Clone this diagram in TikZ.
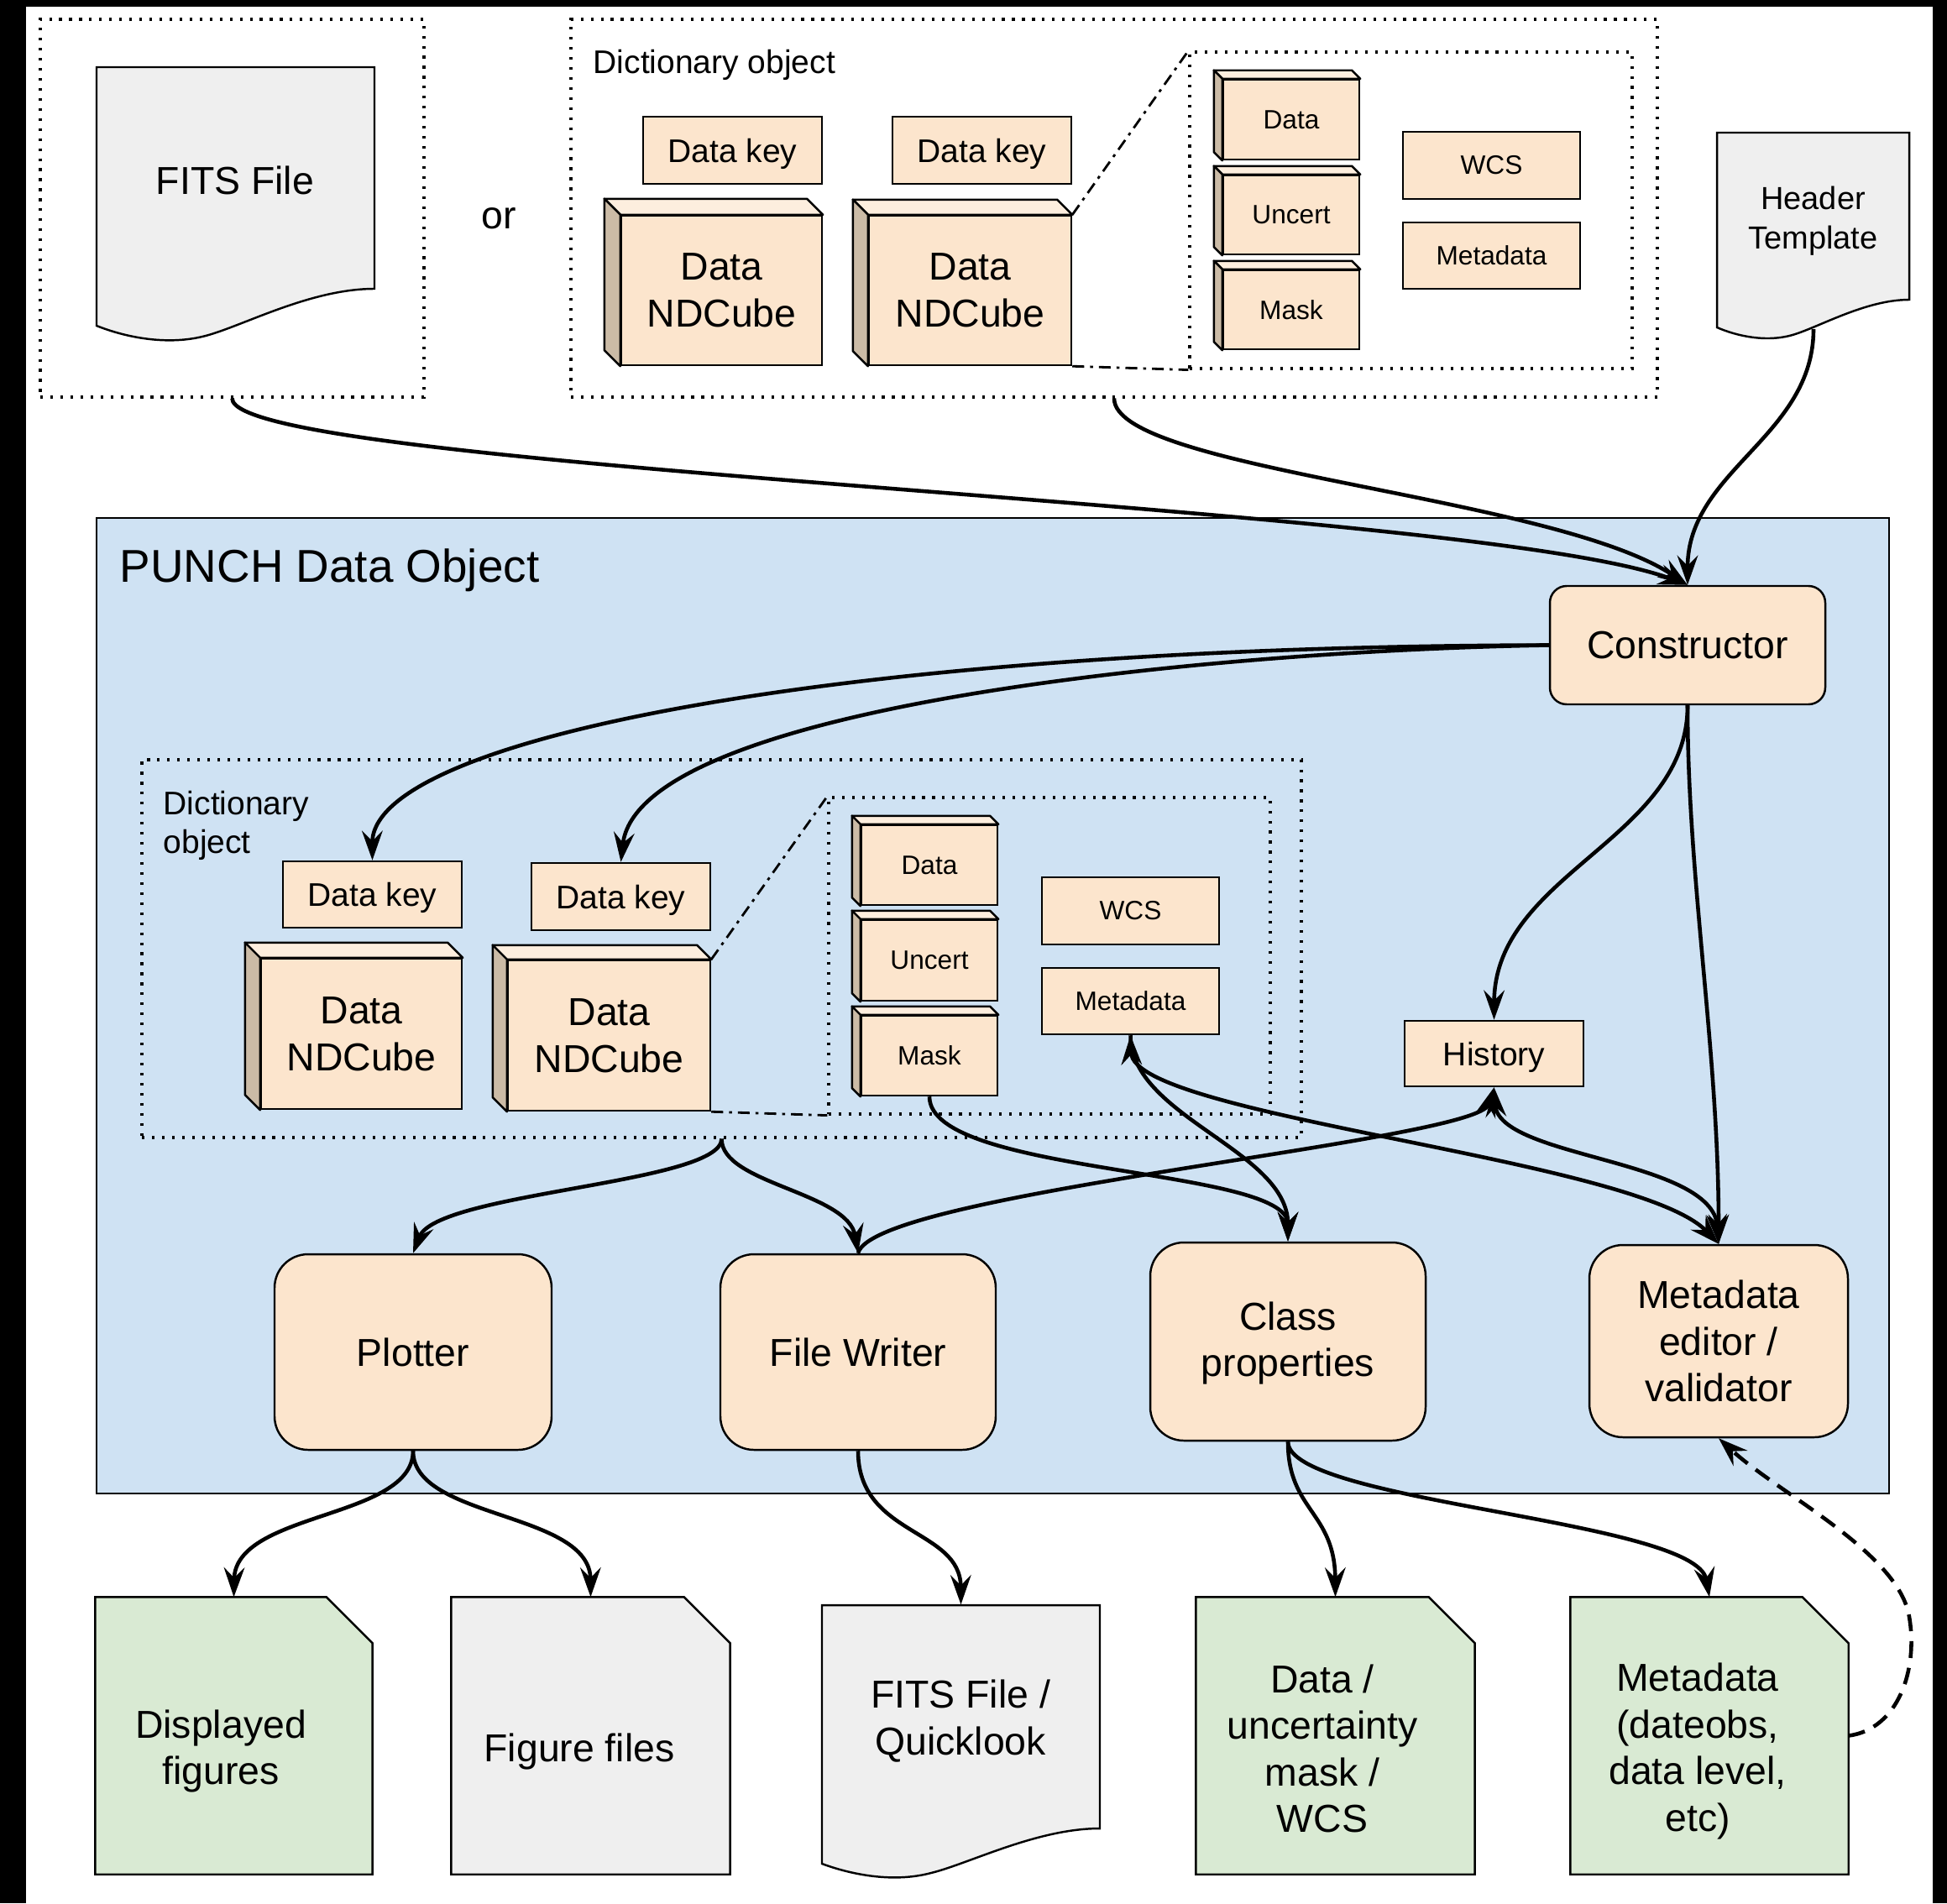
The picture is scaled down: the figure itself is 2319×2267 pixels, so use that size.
\documentclass[tikz,border=0pt]{standalone}
\usepackage{fontspec}
\setmainfont{Liberation Sans}
\usetikzlibrary{arrows.meta,calc}
\definecolor{peach}{RGB}{252,229,205}
\definecolor{cubetop}{RGB}{253,238,222}
\definecolor{cubeside}{RGB}{203,187,166}
\definecolor{pblue}{RGB}{207,226,243}
\definecolor{pgreen}{RGB}{217,234,211}
\definecolor{pgrey}{RGB}{239,239,239}
\newcommand\fBig{\fontsize{13.2}{15.8}\selectfont}
\newcommand\fPun{\fontsize{15.6}{18}\selectfont}
\newcommand\fMid{\fontsize{11.1}{13.1}\selectfont}
\newcommand\fHdr{\fontsize{10.8}{13.4}\selectfont}
\newcommand\fSml{\fontsize{9}{11}\selectfont}
\newcommand\drawcube[2]{%
  \filldraw[cubeedge, fill=cubetop] (#1.north west) -- ++(-#2,-#2) -- ($(#1.north east)+(-#2,-#2)$) -- (#1.north east) -- cycle;
  \filldraw[cubeedge, fill=cubeside] (#1.north west) -- ++(-#2,-#2) -- ($(#1.south west)+(-#2,-#2)$) -- (#1.south west) -- cycle;}
\begin{document}
\begin{tikzpicture}[x=0.1mm,y=-0.1mm,
  box/.style={draw, line width=0.7pt, fill=peach, inner sep=0pt, align=center},
  rbox/.style={box, rounded corners=4mm, font=\fBig},
  capmid/.style={text height=8.1pt, text depth=0pt},
  dotbox/.style={draw, line width=0.9pt, dash pattern=on 0.9pt off 2.5pt, inner sep=0pt},
  shapebox/.style={inner sep=0pt},
  docline/.style={draw, line width=0.7pt},
  cubeedge/.style={draw, line width=0.7pt, line join=round},
  conn/.style={line width=1.3pt, -{Stealth[length=10pt,width=7pt,inset=3.5pt]}},
  bconn/.style={line width=1.3pt, {Stealth[length=10pt,width=7pt,inset=3.5pt]}-{Stealth[length=10pt,width=7pt,inset=3.5pt]}},
  dashdot/.style={line width=0.8pt, dash pattern=on 4pt off 2pt on 1pt off 2pt},
  lbl/.style={inner sep=0pt, align=center},
]
\useasboundingbox (0,0) rectangle (2319,2267);
\fill[white] (0,0) rectangle (2319,2267);
\fill[black] (0,0) rectangle (31,2267);
\fill[black] (0,0) rectangle (2319,8);
\fill[black] (2302,0) rectangle (2319,2267);

% PUNCH data object container
\node[draw, line width=0.7pt, fill=pblue, inner sep=0pt, minimum width=213.5mm, minimum height=116.2mm] (punch) at (1182.5,1198) {};
\node[lbl, anchor=west, font=\fPun] (punchlbl) at (142,679) {PUNCH Data Object};

% ---------- top row ----------
\node[dotbox, minimum width=45.7mm, minimum height=45mm] (fitsgrp) at (276.5,248) {};
\node[shapebox, minimum width=33.1mm, minimum height=32.6mm] (fitsS) at (280.5,243) {};
\filldraw[docline, fill=pgrey] (115,80) -- (446,80) -- (446,344) .. controls (370,344) and (290,388) .. (245,400) .. controls (200,412) and (150,402) .. (115,388) -- cycle;
\node[lbl, font=\fBig] (fits) at (280,215) {FITS File};
\node[lbl, font=\fBig] (orlbl) at (594,260) {or};

\node[dotbox, minimum width=129.4mm, minimum height=45mm] (dictT) at (1327,248) {};
\node[lbl, anchor=west, font=\fMid] (dictTlbl) at (706,77) {Dictionary object};
\node[box, capmid, font=\fMid, minimum width=21.3mm, minimum height=8mm] (dkT1) at (872.5,179) {Data key};
\node[box, capmid, font=\fMid, minimum width=21.3mm, minimum height=8mm] (dkT2) at (1169.5,179) {Data key};
\node[box, font=\fBig, minimum width=23.9mm, minimum height=17.8mm] (ndT1) at (859.5,346) {Data\\NDCube};
\node[box, font=\fBig, minimum width=24.1mm, minimum height=17.8mm] (ndT2) at (1155.5,346) {Data\\NDCube};
\drawcube{ndT1}{19}
\drawcube{ndT2}{18}
\node[dotbox, minimum width=52.7mm, minimum height=37.7mm] (zoomT) at (1680.5,250.5) {};
\node[box, font=\fSml, minimum width=16.2mm, minimum height=9.5mm] (sdT) at (1538,142.5) {Data};
\node[box, font=\fSml, minimum width=16.2mm, minimum height=9.4mm] (suT) at (1538,256) {Uncert};
\node[box, font=\fSml, minimum width=16.2mm, minimum height=9.4mm] (smT) at (1538,369) {Mask};
\drawcube{sdT}{10}
\drawcube{suT}{10}
\drawcube{smT}{10}
\node[box, font=\fSml, minimum width=21.1mm, minimum height=8mm] (wcsT) at (1776.5,197) {WCS};
\node[box, font=\fSml, minimum width=21.1mm, minimum height=7.9mm] (metaT) at (1776.5,304.5) {Metadata};
\draw[dashdot] (ndT2.north east) -- (zoomT.north west);
\draw[dashdot] (ndT2.south east) -- (zoomT.south west);

\node[shapebox, minimum width=22.9mm, minimum height=24.5mm] (hdrS) at (2159.5,280.5) {};
\filldraw[docline, fill=pgrey] (2045,158) -- (2274,158) -- (2274,357) .. controls (2222,357) and (2166,390) .. (2135,399) .. controls (2104,408) and (2069,400.5) .. (2045,390) -- cycle;
\node[lbl, font=\fHdr] (hdr) at (2159.5,263) {Header\\Template};
\coordinate (hdrtail) at (2160,392);

% ---------- inside PUNCH data object ----------
\node[box, rounded corners=2mm, font=\fBig, minimum width=32.8mm, minimum height=14.1mm] (cons) at (2010,768.5) {Constructor};

\node[dotbox, minimum width=138.1mm, minimum height=45mm] (dictB) at (859.5,1130) {};
\node[lbl, anchor=west, align=left, font=\fMid] (dictBlbl) at (194,983) {Dictionary\\object};
\node[box, capmid, font=\fMid, minimum width=21.3mm, minimum height=7.9mm] (dkB1) at (443.5,1065.5) {Data key};
\node[box, capmid, font=\fMid, minimum width=21.3mm, minimum height=8mm] (dkB2) at (739.5,1068) {Data key};
\node[box, font=\fBig, minimum width=23.9mm, minimum height=17.9mm] (ndB1) at (430.5,1231.5) {Data\\NDCube};
\node[box, font=\fBig, minimum width=24.1mm, minimum height=17.9mm] (ndB2) at (725.5,1233.5) {Data\\NDCube};
\drawcube{ndB1}{18}
\drawcube{ndB2}{17}
\node[dotbox, minimum width=52.6mm, minimum height=37.7mm] (zoomB) at (1250,1138.5) {};
\node[box, font=\fSml, minimum width=16.2mm, minimum height=9.5mm] (sdB) at (1107,1030.5) {Data};
\node[box, font=\fSml, minimum width=16.2mm, minimum height=9.6mm] (suB) at (1107,1144) {Uncert};
\node[box, font=\fSml, minimum width=16.2mm, minimum height=9.5mm] (smB) at (1107,1257.5) {Mask};
\drawcube{sdB}{10}
\drawcube{suB}{10}
\drawcube{smB}{10}
\node[box, font=\fSml, minimum width=21.1mm, minimum height=8mm] (wcsB) at (1346.5,1085) {WCS};
\node[box, font=\fSml, minimum width=21.1mm, minimum height=7.9mm] (metaB) at (1346.5,1192.5) {Metadata};
\draw[dashdot] (ndB2.north east) -- (zoomB.north west);
\draw[dashdot] (ndB2.south east) -- (zoomB.south west);

\node[box, capmid, font=\fMid, minimum width=21.3mm, minimum height=7.8mm] (hist) at (1779.5,1255) {History};

\node[rbox, minimum width=33mm, minimum height=23.3mm] (plot) at (492,1610.5) {Plotter};
\node[rbox, minimum width=32.8mm, minimum height=23.3mm] (fw) at (1022,1610.5) {File Writer};
\node[rbox, minimum width=32.8mm, minimum height=23.6mm] (cls) at (1534,1598) {};
\node[lbl, font=\fBig] (clsT) at (1534,1600) {Class\\properties};
\node[rbox, minimum width=30.8mm, minimum height=22.9mm] (med) at (2047,1597.5) {Metadata\\editor /\\validator};

% ---------- bottom documents ----------
\node[shapebox, minimum width=32.9mm, minimum height=32.9mm] (disp) at (278.5,2067.5) {};
\filldraw[docline, fill=pgreen] (disp.north west) -- ($(disp.north east)+(-55,0)$) -- ($(disp.north east)+(0,55)$) -- (disp.south east) -- (disp.south west) -- cycle;
\node[lbl, font=\fBig] (dispT) at (263,2086) {Displayed\\figures};

\node[shapebox, minimum width=33.1mm, minimum height=32.9mm] (figf) at (703.5,2067.5) {};
\filldraw[docline, fill=pgrey] (figf.north west) -- ($(figf.north east)+(-55,0)$) -- ($(figf.north east)+(0,55)$) -- (figf.south east) -- (figf.south west) -- cycle;
\node[lbl, font=\fBig] (figfT) at (690,2086) {Figure files};

\node[shapebox, minimum width=33.1mm, minimum height=32.6mm] (fitsql) at (1144.5,2075) {};
\filldraw[docline, fill=pgrey] (979,1912) -- (1310,1912) -- (1310,2178) .. controls (1235,2178) and (1154,2220) .. (1109,2231) .. controls (1064,2243) and (1014,2233) .. (979,2220) -- cycle;
\node[lbl, font=\fBig] (fitsqlT) at (1144,2050) {FITS File /\\Quicklook};

\node[shapebox, minimum width=33.1mm, minimum height=32.9mm] (duw) at (1590.5,2067.5) {};
\filldraw[docline, fill=pgreen] (duw.north west) -- ($(duw.north east)+(-55,0)$) -- ($(duw.north east)+(0,55)$) -- (duw.south east) -- (duw.south west) -- cycle;
\node[lbl, font=\fBig] (duwT) at (1575,2083) {Data /\\uncertainty\\mask /\\WCS};

\node[shapebox, minimum width=33mm, minimum height=32.9mm] (mdoc) at (2036,2067.5) {};
\filldraw[docline, fill=pgreen] (mdoc.north west) -- ($(mdoc.north east)+(-55,0)$) -- ($(mdoc.north east)+(0,55)$) -- (mdoc.south east) -- (mdoc.south west) -- cycle;
\node[lbl, font=\fBig] (mdocT) at (2022,2086) {Metadata\\(dateobs,\\data level,\\etc)};

% ---------- connectors ----------
\draw[conn] (fitsgrp.south) .. controls (276,560) and (1750,600) .. (cons.north);
\draw[conn] (dictT.south) .. controls (1327,560) and (1850,590) .. (cons.north);
\draw[conn] (hdrtail) .. controls (2160,520) and (2010,560) .. (cons.north);
\draw[conn] (cons.west) .. controls (1000,770) and (443,880) .. (dkB1.north);
\draw[conn] (cons.west) .. controls (1450,775) and (760,840) .. (dkB2.north);
\draw[conn] (cons.south) .. controls (2010,1000) and (1780,1040) .. (hist.north);
\draw[conn] (cons.south) .. controls (2010,1050) and (2047,1250) .. (med.north);
\draw[conn] (dictB.south) .. controls (859,1410) and (520,1420) .. (plot.north);
\draw[conn] (dictB.south) .. controls (859,1410) and (1010,1420) .. (fw.north);
\draw[conn] (fw.north) .. controls (1040,1420) and (1760,1360) .. (hist.south);
\draw[conn] (smB.south) .. controls (1107,1400) and (1534,1390) .. (cls.north);
\draw[conn] (metaB.south) .. controls (1346,1330) and (1534,1370) .. (cls.north);
\draw[bconn] (metaB.south) .. controls (1350,1330) and (1950,1380) .. (med.north);
\draw[bconn] (hist.south) .. controls (1785,1380) and (2040,1380) .. (med.north);
\draw[conn] (plot.south) .. controls (492,1810) and (280,1800) .. (disp.north);
\draw[conn] (plot.south) .. controls (492,1810) and (703,1800) .. (figf.north);
\draw[conn] (fw.south) .. controls (1022,1830) and (1144,1820) .. (fitsql.north);
\draw[conn] (cls.south) .. controls (1534,1800) and (1590,1800) .. (duw.north);
\draw[conn] (cls.south) .. controls (1534,1790) and (2020,1810) .. (mdoc.north);
\draw[conn, dash pattern=on 5.7pt off 3.4pt] (mdoc.east) .. controls (2260,2060) and (2285,1990) .. (2274,1926) .. controls (2262,1850) and (2120,1780) .. (med.south);
\end{tikzpicture}
\end{document}
